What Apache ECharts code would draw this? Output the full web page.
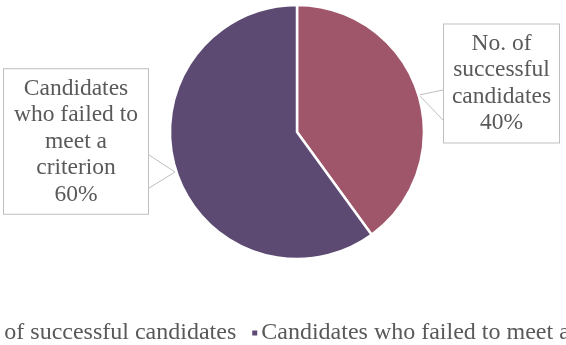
<!DOCTYPE html>
<html>
<head>
<meta charset="utf-8">
<script src="https://cdn.jsdelivr.net/npm/echarts@6/dist/echarts.min.js"></script>
<style>
  html, body { margin: 0; padding: 0; background: #fff; }
  #chart { width: 566px; height: 345px; }
</style>
</head>
<body>
<div id="chart"></div>
<script>
// Share of candidates by outcome
const categories = ['No. of successful candidates', 'Candidates who failed to meet a criterion'];
const values = [40, 60];
// Wrapped text shown inside the callout boxes
const calloutText = ['No. of\nsuccessful\ncandidates', 'Candidates\nwho failed to\nmeet a\ncriterion'];
const colors = ['#A0566A', '#5C4A72'];

const FONT = "'Liberation Serif', 'Times New Roman', serif";
const TEXT_COLOR = '#595959';
const BOX_BORDER = '#BFBFBF';

// Callout box placement (centre of box, box size, padding) and tail geometry
const callouts = [
  { cx: 501.5, cy: 83.5, w: 117, pad: [8, 6, 4, 6], side: 'left', tail: [90, 120], tip: [419, 95] },
  { cx: 76, cy: 141.5, w: 146, pad: [6, 8, 6, 8], side: 'right', tail: [155, 188], tip: [175, 172] }
];

const chart = echarts.init(document.getElementById('chart'), null, { renderer: 'canvas' });

chart.setOption({
  animation: false,
  color: colors,
  legend: {
    data: categories,
    left: -48,
    top: 321,
    width: 900,
    padding: 0,
    icon: 'rect',
    itemWidth: 7,
    itemHeight: 7,
    itemGap: 14,
    textStyle: { fontFamily: FONT, fontSize: 24, color: TEXT_COLOR, padding: [0, 0, 0, -2] }
  },
  series: [{
    type: 'pie',
    center: [297, 132],
    radius: 127,
    startAngle: 90,
    clockwise: true,
    avoidLabelOverlap: false,
    itemStyle: { borderColor: '#fff', borderWidth: 2.5 },
    data: categories.map((name, i) => ({
      name,
      value: values[i],
      label: {
        width: callouts[i].w - callouts[i].pad[1] - callouts[i].pad[3] - 2,
        padding: callouts[i].pad
      }
    })),
    label: {
      show: true,
      position: 'outside',
      formatter: p => calloutText[p.dataIndex] + '\n' + p.percent.toFixed(0) + '%',
      fontFamily: FONT,
      fontSize: 23.5,
      lineHeight: 26.5,
      overflow: 'none',
      color: TEXT_COLOR,
      align: 'center',
      verticalAlign: 'middle',
      backgroundColor: '#fff',
      borderColor: BOX_BORDER,
      borderWidth: 1
    },
    labelLine: {
      show: true,
      lineStyle: { color: BOX_BORDER, width: 1 }
    },
    labelLayout: params => {
      const c = callouts[params.dataIndex];
      const edgeX = c.side === 'left' ? c.cx - c.w / 2 : c.cx + c.w / 2;
      return {
        x: c.cx,
        y: c.cy,
        align: 'center',
        verticalAlign: 'middle',
        labelLinePoints: [[edgeX, c.tail[0]], c.tip, [edgeX, c.tail[1]]]
      };
    }
  }]
});
</script>
</body>
</html>
